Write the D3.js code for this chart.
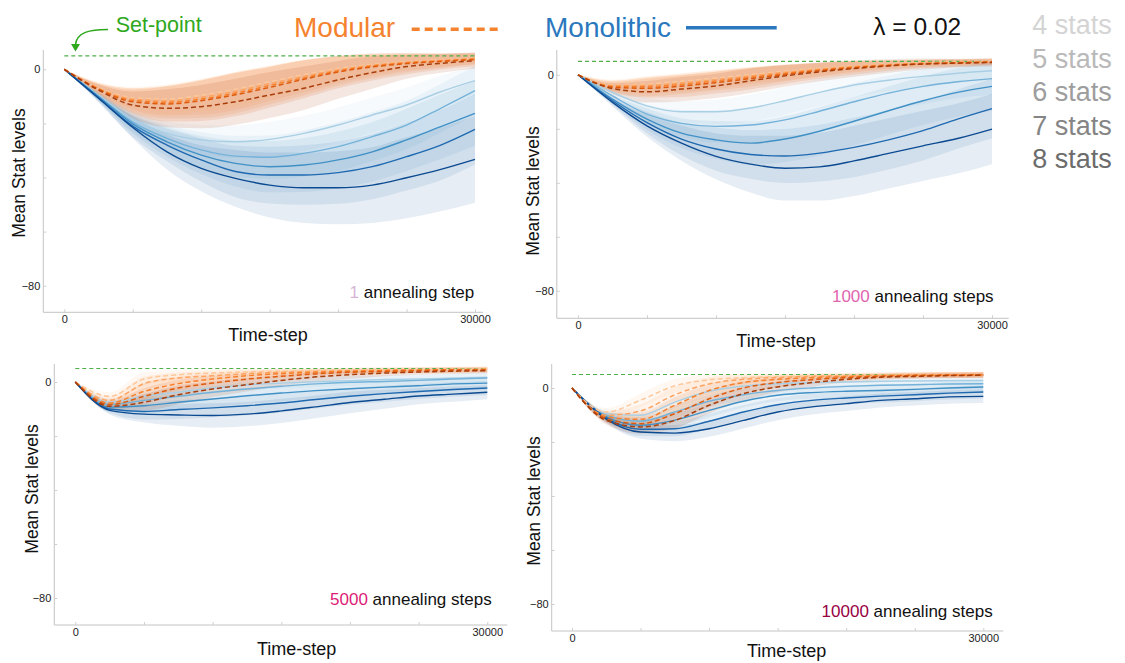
<!DOCTYPE html>
<html>
<head>
<meta charset="utf-8">
<script src="https://cdn.jsdelivr.net/npm/d3@7"></script>
<style>
  body { margin: 0; background: #fff; }
  svg { font-family: "Liberation Sans", Arial, sans-serif; }
</style>
</head>
<body>
<svg id="chart" width="1125" height="663"></svg>
<script>
const timeSteps = [0, 2500, 5000, 7500, 10000, 12500, 15000, 17500, 20000, 22500, 25000, 27500, 30000]
const statCounts = ["4 stats", "5 stats", "6 stats", "7 stats", "8 stats"]
const annealSteps = ["1", "1000", "5000", "10000"]
const annealWords = [" annealing step", " annealing steps", " annealing steps", " annealing steps"]
const setPoint = 5
const yTickValues = [0, -20, -40, -60, -80]
const xTickValues = [0, 5000, 10000, 15000, 20000, 25000, 30000]

// panel 1 : 1 annealing step  (rows = 4..8 stats)
const mono1 = [
    [0, -9.5, -18.5, -23.7, -26.1, -26.8, -25.9, -23.7, -20.6, -16.9, -13.2, -8.3, -4.2],
    [0, -10, -19.5, -25.5, -29.8, -32.1, -32.5, -31.1, -28.6, -24.9, -20.6, -14.4, -7.9],
    [0, -10.1, -20.2, -26.8, -31.7, -34.8, -36.0, -35.4, -33.5, -30.5, -26.1, -21.2, -16.3],
    [0, -10.5, -21, -28.0, -33.5, -37.8, -39.1, -39.1, -38.2, -36.0, -32.3, -28.0, -22.2],
    [0, -10.7, -21.5, -30.5, -36.6, -40.3, -42.8, -43.8, -43.8, -42.8, -40.1, -37.0, -33.3]
]
const mono1Sd = [
    [0, 1.5, 3, 4.5, 5.5, 6, 6.5, 6.5, 6.5, 6.5, 6.5, 6, 5.5],
    [0, 1.5, 3.5, 5, 6.5, 7.5, 8, 8.5, 9, 9, 9, 9, 9],
    [0, 1.5, 3.5, 5.5, 7, 8.5, 9.5, 10, 10.5, 11, 11.5, 12, 12],
    [0, 1.5, 4, 6, 8, 9.5, 10.5, 11, 11.5, 12, 12.5, 13, 13],
    [0, 1.5, 4, 6.5, 8.5, 10.5, 12, 13, 13.5, 14, 15, 15.5, 16]
]
const mod1 = [
    [0, -6.8, -10.5, -11.0, -9.6, -7.4, -4.6, -2.0, 0.3, 1.8, 2.8, 3.5, 4.1],
    [0, -7.0, -11.0, -11.6, -10.3, -8.1, -5.3, -2.6, -0.2, 1.5, 2.6, 3.3, 4.0],
    [0, -7.2, -11.5, -12.2, -11.0, -8.8, -6.0, -3.2, -0.6, 1.2, 2.4, 3.1, 3.8],
    [0, -7.4, -12.0, -12.8, -11.6, -9.4, -6.7, -3.7, -1.0, 0.9, 2.1, 2.9, 3.6],
    [0, -7.7, -13.2, -14.4, -13.8, -12.0, -9.5, -7.0, -3.9, -1.2, 1.0, 2.2, 3.2]
]
const mod1Sd = [
    [0, 2, 4, 5.5, 6, 6.5, 6, 5.5, 4.5, 3.5, 2.5, 2, 1.5],
    [0, 2, 4, 5.5, 6.5, 7, 6.5, 6, 5, 4, 3, 2.5, 2],
    [0, 2, 4.5, 6, 7, 7.5, 7, 6.5, 5.5, 4.5, 3.5, 2.5, 2],
    [0, 2, 4.5, 6.5, 7.5, 8, 7.5, 7, 6, 5, 4, 3, 2.5],
    [0, 2, 5, 7, 8, 8.5, 8.5, 8, 7, 6, 4.5, 3.5, 3]
]

// panel 2 : 1000 annealing steps
const mono2 = [
    [0, -6.5, -11.5, -13.7, -13.7, -12.3, -9.6, -6.5, -3.8, -2.0, -0.6, 0.6, 1.5],
    [0, -7.8, -14.6, -18.0, -19.1, -18.6, -16.7, -13.5, -10.0, -6.8, -4.3, -2.6, -1.4],
    [0, -9.0, -16.4, -21.6, -24.1, -25.3, -23.8, -20.9, -17.2, -13.3, -9.6, -6.5, -4.3],
    [0, -9.6, -17.7, -23.8, -27.5, -29.5, -30.1, -29.0, -26.9, -24.1, -20.7, -16.4, -12.5],
    [0, -10.2, -18.9, -25.3, -30.2, -33.1, -34.6, -34.1, -31.9, -29.1, -26.3, -23.6, -20.1]
]
const mono2Sd = [
    [0, 1.5, 3, 4, 4.5, 5, 5, 5, 4.5, 4, 4, 3.5, 3.5],
    [0, 1.5, 3.5, 5, 6, 6.5, 7, 7, 7, 6.5, 6.5, 6, 6],
    [0, 1.5, 4, 5.5, 7, 8, 8.5, 9, 9, 9, 9, 9, 9],
    [0, 1.5, 4, 6, 8, 9, 10, 10.5, 11, 11, 11, 11, 11],
    [0, 1.5, 4, 6.5, 8.5, 10.5, 12, 12.5, 13, 13, 13, 13, 13]
]
const mod2 = [
    [0, -3.7, -3.4, -2.4, -1.2, 0.1, 1.3, 2.4, 3.3, 4.0, 4.5, 4.8, 5.0],
    [0, -4.0, -3.9, -3.0, -1.8, -0.4, 0.9, 2.1, 3.1, 3.8, 4.3, 4.6, 4.9],
    [0, -4.3, -4.4, -3.6, -2.3, -0.9, 0.5, 1.8, 2.8, 3.6, 4.2, 4.5, 4.8],
    [0, -4.6, -5.0, -4.2, -2.9, -1.4, 0.1, 1.5, 2.6, 3.4, 4.0, 4.4, 4.7],
    [0, -5.1, -6.3, -5.3, -4.1, -2.2, -0.4, 1.1, 2.3, 3.3, 4.0, 4.3, 4.6]
]
const mod2Sd = [
    [0, 2, 3, 3, 3, 3, 2.5, 2, 1.5, 1.2, 1, 1, 1],
    [0, 2, 3, 3.5, 3.5, 3, 3, 2.5, 2, 1.5, 1.2, 1, 1],
    [0, 2, 3.5, 3.5, 3.5, 3.5, 3, 2.5, 2, 1.5, 1.5, 1.2, 1],
    [0, 2, 3.5, 4, 4, 4, 3.5, 3, 2.5, 2, 1.5, 1.5, 1.2],
    [0, 2, 4, 4.5, 4.5, 4.5, 4, 3.5, 3, 2.5, 2, 1.5, 1.5]
]

// panel 3 : 5000 annealing steps
const mono3 = [
    [0, -7.5, -5.3, -3.8, -2.2, -1.1, -0.4, 0.1, 0.5, 0.9, 1.1, 1.4, 1.7],
    [0, -8.4, -6.8, -5.3, -3.8, -2.6, -1.6, -0.7, -0.1, 0.2, 0.6, 1.1, 1.5],
    [0, -9.3, -8.8, -7.5, -6.3, -5.1, -4.1, -3.2, -2.5, -1.9, -1.4, -0.7, -0.4],
    [0, -10.0, -10.9, -10.2, -9.6, -8.8, -7.8, -6.5, -5.3, -4.3, -3.5, -2.8, -2.2],
    [0, -10.5, -11.9, -12.2, -12.4, -11.9, -10.7, -9.2, -7.6, -6.4, -5.2, -4.5, -3.8]
]
const mono3Sd = [
    [0, 1.5, 2, 2, 2, 2, 2, 2, 2, 1.8, 1.8, 1.8, 1.8],
    [0, 1.5, 2.5, 2.5, 2.5, 2.5, 2.5, 2.5, 2.3, 2.2, 2, 2, 2],
    [0, 1.5, 3, 3, 3, 3, 3, 3, 2.8, 2.6, 2.5, 2.5, 2.5],
    [0, 1.5, 3, 3.5, 3.5, 3.5, 3.5, 3.3, 3.1, 3, 2.8, 2.7, 2.6],
    [0, 1.5, 3, 4, 4.5, 4.5, 4.5, 4.2, 4, 3.5, 3, 2.8, 2.6]
]
const mod3 = [
    [0, -5.3, 1.1, 2.7, 3.3, 3.7, 4.0, 4.2, 4.4, 4.5, 4.6, 4.7, 4.8],
    [0, -6.8, -0.6, 1.5, 2.3, 3.1, 3.6, 3.9, 4.2, 4.4, 4.5, 4.6, 4.7],
    [0, -7.8, -3.5, -0.6, 1.1, 2.3, 3.1, 3.6, 4.0, 4.2, 4.4, 4.5, 4.6],
    [0, -8.4, -5.3, -2.2, -0.4, 1.1, 2.1, 3.0, 3.6, 3.9, 4.2, 4.4, 4.5],
    [0, -9.0, -7.5, -4.7, -2.6, -1.0, 0.6, 1.9, 2.7, 3.3, 3.7, 4.0, 4.2]
]
const mod3Sd = [
    [0, 1.5, 2.5, 1.8, 1.5, 1.2, 1, 1, 1, 1, 1, 1, 1],
    [0, 1.5, 2.5, 2, 1.8, 1.5, 1.2, 1, 1, 1, 1, 1, 1],
    [0, 1.5, 3, 2.5, 2, 1.8, 1.5, 1.2, 1, 1, 1, 1, 1],
    [0, 1.5, 3, 3, 2.5, 2, 1.8, 1.5, 1.2, 1, 1, 1, 1],
    [0, 1.5, 3, 3.5, 3, 2.5, 2, 1.8, 1.5, 1.2, 1, 1, 1]
]

// panel 4 : 10000 annealing steps
const mono4 = [
    [0, -9.5, -10.1, -5.2, -1.2, 0.7, 1.6, 2.0, 2.2, 2.5, 2.6, 2.7, 2.8],
    [0, -10.1, -12.3, -8.9, -4.9, -2.5, -0.9, 0, 0.6, 1.0, 1.2, 1.5, 1.6],
    [0, -10.7, -13.8, -11.9, -8.3, -4.9, -2.7, -1.7, -1.2, -0.9, -0.5, 0, 0.4],
    [0, -11.1, -15.3, -15.1, -12.3, -8.9, -6.2, -4.6, -3.7, -3.0, -2.5, -1.9, -1.5],
    [0, -11.5, -16.3, -16.7, -15.1, -12.0, -8.9, -7.0, -5.8, -4.6, -4.0, -3.3, -3.1]
]
const mono4Sd = [
    [0, 1.5, 2, 2, 2, 1.8, 1.8, 1.8, 1.8, 1.8, 1.8, 1.8, 1.8],
    [0, 1.5, 2.2, 2.3, 2.2, 2, 2, 2, 2, 2, 2, 2, 2],
    [0, 1.5, 2.5, 2.5, 2.5, 2.3, 2.2, 2.2, 2.2, 2.2, 2.2, 2.2, 2.2],
    [0, 1.5, 2.5, 2.8, 2.8, 2.6, 2.5, 2.5, 2.4, 2.4, 2.4, 2.4, 2.4],
    [0, 1.5, 2.5, 3, 3, 3, 3, 2.8, 2.7, 2.6, 2.5, 2.5, 2.5]
]
const mod4 = [
    [0, -8.9, -4.5, 0.8, 3.0, 3.8, 4.2, 4.5, 4.7, 4.8, 4.9, 5.0, 5.0],
    [0, -10.1, -8.5, -2.5, 1.5, 3.2, 3.9, 4.3, 4.5, 4.7, 4.8, 4.9, 5.0],
    [0, -10.7, -11.6, -6.4, -0.9, 2.0, 3.2, 3.8, 4.2, 4.5, 4.7, 4.8, 4.9],
    [0, -11.4, -13.2, -9.5, -4.0, 0, 2.0, 3.1, 3.8, 4.3, 4.6, 4.7, 4.8],
    [0, -12.0, -14.4, -12.0, -6.4, -2.1, 0.4, 2.0, 3.2, 4.0, 4.3, 4.6, 4.7]
]
const mod4Sd = [
    [0, 1.5, 2.5, 2.5, 2, 1.5, 1.2, 1, 1, 1, 1, 1, 1],
    [0, 1.5, 2.5, 3, 2.5, 1.8, 1.2, 1, 1, 1, 1, 1, 1],
    [0, 1.5, 2.5, 3, 2.5, 2, 1.5, 1.2, 1, 1, 1, 1, 1],
    [0, 1.5, 2.5, 3, 3, 2.5, 1.8, 1.5, 1.2, 1, 1, 1, 1],
    [0, 1.5, 2.5, 3, 3, 2.5, 2, 1.5, 1.2, 1, 1, 1, 1]
]

const monoColors = ["#a9cfe5", "#74b2d9", "#4191c6", "#1f69b0", "#0b4a91"]
const modColors  = ["#fdc89b", "#fda463", "#f7802c", "#de5a0c", "#a83e0c"]
const statColors = ["#d4d4d4", "#b9b9b9", "#9d9d9d", "#858585", "#6c6c6c"]
const annealColors = ["#d7b5d8", "#df65b0", "#dd1c77", "#980043"]

const svg = d3.select("#chart")

// pixel frames of the four sub-plots
const frames = [
    {x0: 64.3, x1: 475,   y0: 69.3,  y80: 285.7, left: 43.3,  right: 483,    top: 50,  bottom: 312.3, ylx: 24.5,  yly: 173, xlx: 268,   xly: 341, ax: 474.3, ay: 297.7},
    {x0: 578,  x1: 992,   y0: 74.8,  y80: 290.8, left: 556.8, right: 1008.7, top: 50,  bottom: 318.3, ylx: 539,   yly: 191, xlx: 776,   xly: 347, ax: 993.6, ay: 301.7},
    {x0: 75.3, x1: 487.3, y0: 382,   y80: 598,   left: 54.3,  right: 507.3,  top: 364, bottom: 625,   ylx: 37.5,  yly: 489, xlx: 296.7, xly: 655, ax: 491.7, ay: 605},
    {x0: 572,  x1: 983.3, y0: 388,   y80: 604,   left: 551.7, right: 1003.3, top: 364, bottom: 631,   ylx: 539.5, yly: 501, xlx: 786.7, xly: 657, ax: 992.7, ay: 616.7}
]
const panelData = [
    {mono: mono1, monoSd: mono1Sd, mod: mod1, modSd: mod1Sd},
    {mono: mono2, monoSd: mono2Sd, mod: mod2, modSd: mod2Sd},
    {mono: mono3, monoSd: mono3Sd, mod: mod3, modSd: mod3Sd},
    {mono: mono4, monoSd: mono4Sd, mod: mod4, modSd: mod4Sd}
]

const drawPanel = (index) => {
    const f = frames[index]
    const d = panelData[index]
    const x = d3.scaleLinear().domain([0, 30000]).range([f.x0, f.x1])
    const y = d3.scaleLinear().domain([0, -80]).range([f.y0, f.y80])
    const g = svg.append("g")

    const line = d3.line()
        .x((v, i) => x(timeSteps[i]))
        .y(v => y(v))
        .curve(d3.curveMonotoneX)
    const band = (means, sds) => d3.area()
        .x((v, i) => x(timeSteps[i]))
        .y0((v, i) => y(means[i] - sds[i]))
        .y1((v, i) => y(means[i] + sds[i]))
        .curve(d3.curveMonotoneX)(means)

    // shaded bands
    d.mono.forEach((m, i) => {
        g.append("path").attr("d", band(m, d.monoSd[i]))
            .attr("fill", monoColors[i]).attr("fill-opacity", 0.1)
    })
    d.mod.forEach((m, i) => {
        g.append("path").attr("d", band(m, d.modSd[i]))
            .attr("fill", modColors[i]).attr("fill-opacity", 0.13)
    })

    // set-point
    g.append("line")
        .attr("x1", x(0)).attr("x2", x(30000))
        .attr("y1", y(setPoint)).attr("y2", y(setPoint))
        .attr("stroke", "#4fb04a").attr("stroke-width", 1.2)
        .attr("stroke-dasharray", "4,3")

    // mean lines
    d.mono.forEach((m, i) => {
        g.append("path").attr("d", line(m))
            .attr("fill", "none").attr("stroke", monoColors[i]).attr("stroke-width", 1.4)
    })
    d.mod.forEach((m, i) => {
        g.append("path").attr("d", line(m))
            .attr("fill", "none").attr("stroke", modColors[i]).attr("stroke-width", 1.5)
            .attr("stroke-dasharray", "5,3")
    })

    // spines
    g.append("line").attr("x1", f.left).attr("x2", f.left).attr("y1", f.top).attr("y2", f.bottom)
        .attr("stroke", "#c4c4c4")
    g.append("line").attr("x1", f.left).attr("x2", f.right).attr("y1", f.bottom).attr("y2", f.bottom)
        .attr("stroke", "#c4c4c4")

    const yAxis = g.append("g")
        .attr("transform", `translate(${f.left},0)`)
        .call(d3.axisLeft(y).tickValues(yTickValues).tickSize(-3).tickPadding(3)
            .tickFormat(v => (v === 0 || v === -80) ? d3.format("d")(v) : ""))
    const xAxis = g.append("g")
        .attr("transform", `translate(0,${f.bottom})`)
        .call(d3.axisBottom(x).tickValues(xTickValues).tickSize(-3).tickPadding(3)
            .tickFormat(v => (v === 0 || v === 30000) ? String(v) : ""))
    ;[yAxis, xAxis].forEach(a => {
        a.select(".domain").remove()
        a.selectAll(".tick line").attr("stroke", "#cfcfcf")
        a.selectAll(".tick text").attr("fill", "#222").style("font-size", "11px")
            .style("font-family", "'Liberation Sans', Arial, sans-serif")
    })

    // axis titles
    g.append("text")
        .attr("transform", `translate(${f.ylx},${f.yly}) rotate(-90)`)
        .attr("text-anchor", "middle").style("font-size", "17.5px").attr("fill", "#111")
        .text("Mean Stat levels")
    g.append("text")
        .attr("x", f.xlx).attr("y", f.xly)
        .attr("text-anchor", "middle").style("font-size", "18px").attr("fill", "#111")
        .text("Time-step")

    // annealing annotation
    const ann = g.append("text")
        .attr("x", f.ax).attr("y", f.ay)
        .attr("text-anchor", "end").style("font-size", "17px")
    ann.append("tspan").attr("fill", annealColors[index]).text(annealSteps[index])
    ann.append("tspan").attr("fill", "#111").text(annealWords[index])
}

for (let i = 0; i < frames.length; i++)
    drawPanel(i)

// header legend
svg.append("text").attr("x", 115.7).attr("y", 32.3)
    .style("font-size", "21.5px").attr("fill", "#2ea81c").text("Set-point")
svg.append("path")
    .attr("d", "M108,29.5 C90,29.5 76.5,32 75.5,45")
    .attr("fill", "none").attr("stroke", "#2ea81c").attr("stroke-width", 1.6)
svg.append("path")
    .attr("d", "M71,44 L80,44 L75.5,51.5 Z")
    .attr("fill", "#2ea81c")

svg.append("text").attr("x", 294).attr("y", 37.3)
    .style("font-size", "28px").attr("fill", "#f5822e").text("Modular")
svg.append("line").attr("x1", 411.7).attr("x2", 501.7).attr("y1", 29.3).attr("y2", 29.3)
    .attr("stroke", "#f5822e").attr("stroke-width", 3.5).attr("stroke-dasharray", "8,5")

svg.append("text").attr("x", 545).attr("y", 37.3)
    .style("font-size", "28px").attr("fill", "#2a78bd").text("Monolithic")
svg.append("line").attr("x1", 686).attr("x2", 776.7).attr("y1", 27.7).attr("y2", 27.7)
    .attr("stroke", "#2a78bd").attr("stroke-width", 3.5)

svg.append("text").attr("x", 873.3).attr("y", 35)
    .style("font-size", "24.5px").attr("fill", "#111").text("λ = 0.02")

svg.selectAll("text.stat")
    .data(statCounts)
    .enter()
    .append("text")
    .attr("class", "stat")
    .attr("x", 1032.3)
    .attr("y", (d, i) => 34.3 + i * 33.5)
    .style("font-size", "27px")
    .attr("fill", (d, i) => statColors[i])
    .text(d => d)
</script>
</body>
</html>
